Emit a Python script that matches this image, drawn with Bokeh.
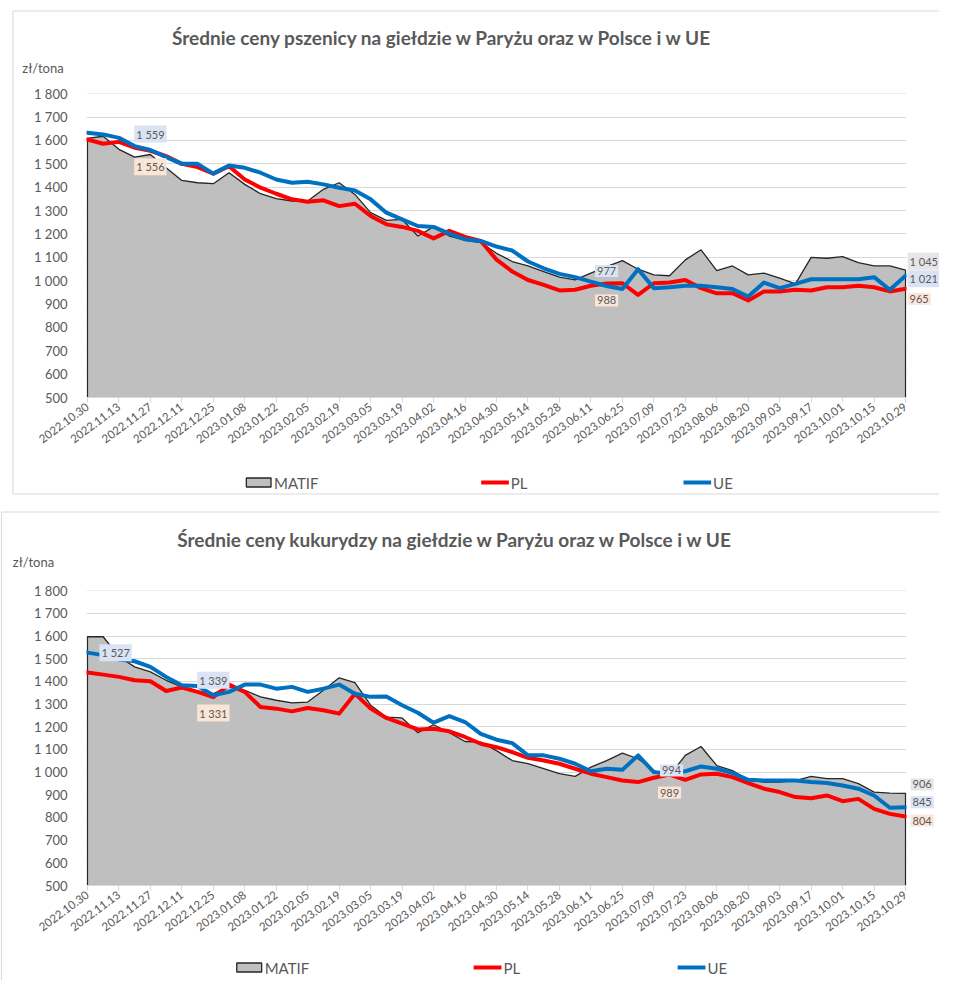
from bokeh.plotting import figure
from bokeh.models import Range1d, FixedTicker, ColumnDataSource
from bokeh.layouts import column
from bokeh.core.properties import value
from bokeh.embed import file_html
from bokeh.resources import INLINE

# ---------------- data ----------------
dates = ["2022.10.30", "2022.11.06", "2022.11.13", "2022.11.20", "2022.11.27", "2022.12.04",
         "2022.12.11", "2022.12.18", "2022.12.25", "2023.01.01", "2023.01.08", "2023.01.15",
         "2023.01.22", "2023.01.29", "2023.02.05", "2023.02.12", "2023.02.19", "2023.02.26",
         "2023.03.05", "2023.03.12", "2023.03.19", "2023.03.26", "2023.04.02", "2023.04.09",
         "2023.04.16", "2023.04.23", "2023.04.30", "2023.05.07", "2023.05.14", "2023.05.21",
         "2023.05.28", "2023.06.04", "2023.06.11", "2023.06.18", "2023.06.25", "2023.07.02",
         "2023.07.09", "2023.07.16", "2023.07.23", "2023.07.30", "2023.08.06", "2023.08.13",
         "2023.08.20", "2023.08.27", "2023.09.03", "2023.09.10", "2023.09.17", "2023.09.24",
         "2023.10.01", "2023.10.08", "2023.10.15", "2023.10.22", "2023.10.29"]

y_ticks = [500, 600, 700, 800, 900, 1000, 1100, 1200, 1300, 1400, 1500, 1600, 1700, 1800]

wheat_matif = [1609, 1618, 1562, 1529, 1540, 1483, 1429, 1419, 1415, 1462, 1412, 1372, 1351,
               1341, 1341, 1391, 1419, 1369, 1291, 1258, 1262, 1191, 1230, 1191, 1173, 1163,
               1117, 1082, 1063, 1039, 1015, 1003, 1032, 1060, 1086, 1049, 1025, 1021, 1089,
               1132, 1043, 1063, 1025, 1032, 1011, 986, 1100, 1096, 1103, 1077, 1063, 1063, 1045]
wheat_pl = [1604, 1586, 1594, 1569, 1556, 1533, 1500, 1486, 1458, 1490, 1433, 1398, 1372,
            1348, 1338, 1344, 1319, 1329, 1277, 1241, 1230, 1213, 1181, 1213, 1187, 1170,
            1090, 1039, 1003, 982, 958, 961, 978, 988, 989, 939, 989, 992, 1003,
            968, 946, 946, 915, 954, 954, 961, 958, 972, 972, 978, 972, 954, 965]
wheat_ue = [1633, 1626, 1611, 1576, 1559, 1529, 1500, 1500, 1458, 1493, 1483, 1462, 1433,
            1419, 1423, 1412, 1398, 1386, 1348, 1291, 1262, 1234, 1230, 1201, 1177, 1170,
            1146, 1129, 1082, 1053, 1029, 1015, 996, 977, 964, 1049, 968, 972, 978,
            978, 972, 964, 932, 992, 968, 986, 1006, 1006, 1006, 1006, 1015, 961, 1021]

corn_matif = [1597, 1597, 1509, 1464, 1442, 1405, 1376, 1357, 1346, 1376, 1361, 1332, 1317,
              1305, 1309, 1361, 1416, 1395, 1295, 1243, 1239, 1174, 1209, 1174, 1135, 1132,
              1095, 1051, 1037, 1015, 993, 981, 1022, 1051, 1084, 1059, 1007, 985, 1074,
              1113, 1029, 1007, 966, 956, 956, 963, 981, 971, 971, 949, 912, 907, 906]
corn_pl = [1439, 1430, 1420, 1405, 1401, 1358, 1373, 1354, 1331, 1386, 1354, 1287, 1280,
           1268, 1283, 1273, 1258, 1346, 1280, 1239, 1214, 1188, 1191, 1180, 1155, 1125,
           1110, 1088, 1063, 1051, 1037, 1015, 993, 978, 963, 956, 975, 989, 966,
           990, 993, 978, 952, 927, 912, 890, 885, 897, 872, 882, 838, 816, 804]
corn_ue = [1527, 1516, 1497, 1489, 1464, 1420, 1383, 1380, 1339, 1354, 1386, 1386, 1368,
           1376, 1354, 1368, 1386, 1346, 1332, 1334, 1295, 1262, 1218, 1247, 1221, 1169,
           1143, 1128, 1074, 1074, 1059, 1037, 1004, 1015, 1010, 1074, 1000, 994, 1004,
           1025, 1015, 996, 966, 963, 963, 963, 956, 952, 941, 927, 897, 843, 845]

series_names = ["MATIF", "PL", "UE"]

# ---------------- style ----------------
TXT = "#595959"
FONT = "Lato"
RED = "#ff0000"
BLUE = "#0070c0"
AREA = "#bfbfbf"
AREA_LINE = "#262626"
GRID = "#d9d9d9"
BOX = "#d9d9d9"
LABEL_BG = {"MATIF": "#e7e6e6", "PL": "#fbe5d6", "UE": "#dae3f3"}

xs = list(range(len(dates)))
X0, X1 = xs[0] - 0.06, xs[-1] + 0.06
Y0, Y1 = y_ticks[0], y_ticks[-1] + 1
PAGE_W = 939
PAGE_X0 = 8   # horizontal page offset of the figures


def fmt(v):
    return f"{v:,}".replace(",", " ")


def build(title, matif, pl, ue, geom, page_top, title_px, unit_px, legend_y, box_px, labels):
    ml, mr, mt, mb, height = geom
    fw = PAGE_W - ml - mr
    fh = height - mt - mb
    p = figure(width=PAGE_W, height=height, min_border_left=ml, min_border_right=mr,
               min_border_top=mt, min_border_bottom=mb,
               x_range=Range1d(X0, X1), y_range=Range1d(Y0, Y1),
               output_backend="svg", toolbar_location=None, title=None,
               background_fill_color="white", border_fill_color="white")
    p.outline_line_color = None
    p.xgrid.visible = False
    p.ygrid.ticker = FixedTicker(ticks=y_ticks)
    p.ygrid.grid_line_color = GRID
    p.ygrid.grid_line_width = 1

    data = {"MATIF": matif, "PL": pl, "UE": ue}

    # MATIF area: fill + outline (top and both sides)
    ax = [xs[0]] + xs + [xs[-1]]
    ay = [Y0] + matif + [Y0]
    p.patch(ax, ay, fill_color=AREA, line_color=None)
    p.line(ax, ay, line_color=AREA_LINE, line_width=1.3)
    p.line(xs, pl, line_color=RED, line_width=4, line_join="round", line_cap="round")
    p.line(xs, ue, line_color=BLUE, line_width=4, line_join="round", line_cap="round")

    # axes
    xa = p.xaxis[0]
    xa.ticker = FixedTicker(ticks=xs[::2])
    xa.major_label_overrides = {i: dates[i] for i in xs[::2]}
    xa.major_label_orientation = 0.64
    xa.major_label_text_font = FONT
    xa.major_label_text_font_size = "11.5px"
    xa.major_label_text_color = TXT
    xa.axis_line_color = GRID
    xa.major_tick_line_color = GRID
    xa.major_tick_out = 5
    xa.major_tick_in = 0
    xa.minor_tick_line_color = None
    xa.major_label_standoff = 3

    ya = p.yaxis[0]
    ya.ticker = FixedTicker(ticks=y_ticks)
    ya.major_label_overrides = {v: fmt(v) for v in y_ticks}
    ya.major_label_text_font = FONT
    ya.major_label_text_font_size = "13px"
    ya.major_label_text_color = TXT
    ya.axis_line_color = None
    ya.major_tick_line_color = None
    ya.minor_tick_line_color = None
    ya.major_label_standoff = 13

    frame_left = PAGE_X0 + ml
    frame_bottom = page_top + mt + fh

    def px2x(px):
        return X0 + (px - frame_left) / fw * (X1 - X0)

    def py2y(py):
        return Y0 + (frame_bottom - py) / fh * (Y1 - Y0)

    # chart border (left, top and bottom sides; the right side lies off the page)
    bl, bt, br, bb = box_px
    p.multi_line(xs=[[px2x(br), px2x(bl), px2x(bl), px2x(br)]],
                 ys=[[py2y(bt), py2y(bt), py2y(bb), py2y(bb)]],
                 line_color=BOX, line_width=1, level="overlay")

    # title and unit
    p.text(x=[px2x(title_px[0])], y=[py2y(title_px[1])], text=[title], text_font=value(FONT),
           text_font_style="bold", text_font_size="19px", text_color=TXT, text_align="center",
           text_baseline="middle", level="overlay")
    p.text(x=[px2x(unit_px[0])], y=[py2y(unit_px[1])], text=["zł/tona"], text_font=value(FONT),
           text_font_size="13px", text_color=TXT, text_align="left", text_baseline="middle",
           level="overlay")

    # legend (drawn below the axis labels)
    ly = py2y(legend_y)
    hh = 4.5 / fh * (Y1 - Y0)
    p.quad(left=[px2x(245)], right=[px2x(270)], bottom=[ly - hh], top=[ly + hh],
           fill_color=AREA, line_color=AREA_LINE, line_width=1.3, level="overlay")
    p.segment(x0=[px2x(483), px2x(688)], y0=[ly, ly], x1=[px2x(511), px2x(716)], y1=[ly, ly],
              line_color=[RED, BLUE], line_width=4, level="overlay")
    p.text(x=[px2x(273), px2x(513), px2x(718)], y=[ly, ly, ly], text=series_names,
           text_font=value(FONT), text_font_size="15px", text_color=TXT, text_align="left",
           text_baseline="middle", level="overlay")

    # data labels
    for name, i, xo, yo, align in labels:
        v = data[name][i]
        src = ColumnDataSource(dict(x=[xs[i]], y=[v], t=[fmt(v)]))
        p.text(x="x", y="y", text="t", source=src, x_offset=xo, y_offset=yo,
               text_font=value(FONT), text_font_size="11px", text_color=TXT,
               text_align=align, text_baseline="middle",
               background_fill_color=LABEL_BG[name], background_fill_alpha=1.0,
               padding=2, level="overlay")
    return p


last = len(dates) - 1
p1 = build("Średnie ceny pszenicy na giełdzie w Paryżu oraz w Polsce i w UE",
           wheat_matif, wheat_pl, wheat_ue,
           (75, 33, 93, 99, 496), 0, (444, 37), (18, 67), 482, (8.5, 10.5, 990, 493.5),
           [("UE", 4, 0, -16, "center"), ("PL", 4, 0, 16, "center"),
            ("UE", 33, 0, -15, "center"), ("PL", 33, 0, 17, "center"),
            ("MATIF", last, 2, -9, "left"), ("UE", last, 2, 3, "left"),
            ("PL", last, 2, 10, "left")])

p2 = build("Średnie ceny kukurydzy na giełdzie w Paryżu oraz w Polsce i w UE",
           corn_matif, corn_pl, corn_ue,
           (86, 29, 80, 95, 470), 510, (465, 539), (20, 561), 967, (8.5, 511.5, 990, 1200),
           [("UE", 0, 12, 0, "left"), ("UE", 8, 0, -15, "center"), ("PL", 8, 0, 16, "center"),
            ("UE", 37, 2, -3, "center"), ("PL", 37, 0, 18, "center"),
            ("MATIF", last, 5, -9, "left"), ("UE", last, 5, -5, "left"),
            ("PL", last, 5, 4, "left")])

layout = column(p1, p2, spacing=14)
open("out.html", "w").write(file_html(layout, INLINE))
